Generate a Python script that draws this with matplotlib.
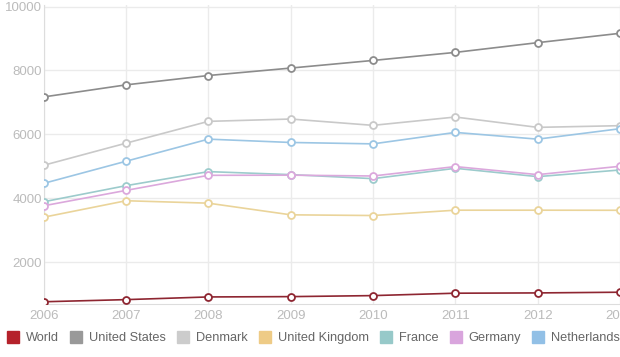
import matplotlib
matplotlib.use("Agg")
import matplotlib.pyplot as plt
from matplotlib.lines import Line2D

plt.rcParams['font.family'] = ['Liberation Sans', 'DejaVu Sans']

years = [2006, 2007, 2008, 2009, 2010, 2011, 2012, 2013]
series_names = ["World", "United States", "Denmark", "United Kingdom", "France", "Germany", "Netherlands"]
world = [755, 822, 906, 916, 948, 1023, 1032, 1054]
united_states = [7170, 7548, 7841, 8074, 8313, 8565, 8870, 9163]
denmark = [5030, 5722, 6405, 6478, 6280, 6541, 6217, 6270]
united_kingdom = [3403, 3919, 3843, 3478, 3456, 3623, 3623, 3620]
france = [3887, 4391, 4831, 4737, 4611, 4935, 4674, 4882]
germany = [3761, 4243, 4715, 4720, 4694, 4989, 4737, 4998]
netherlands = [4463, 5156, 5848, 5744, 5700, 6059, 5848, 6175]
y_ticks = [2000, 4000, 6000, 8000, 10000]

values = [world, united_states, denmark, united_kingdom, france, germany, netherlands]
line_colors = ["#8e2631", "#8c8c8c", "#c9c9c9", "#ead49a", "#9ccbcc", "#dba8dc", "#9cc6e4"]
legend_colors = ["#b5222b", "#999999", "#cccccc", "#eecb86", "#97c9c9", "#d9a5dd", "#92c0e6"]

fig = plt.figure(figsize=(6.2, 3.57), dpi=100)
ax = fig.add_axes([43.7 / 620, 1 - 304 / 357, 1 - 43.7 / 620, (304 - 5.3) / 357])

for name, vals, c in zip(series_names, values, line_colors):
    ax.plot(years, vals, color=c, lw=1.2, marker='o', ms=5, mfc='white', mec=c, mew=1.3, zorder=3)

ax.set_xlim(years[0], years[-1])
ax.set_ylim(685, 10040)
ax.set_xticks(years)
ax.set_yticks(y_ticks)
ax.set_xticklabels([str(y) for y in years])
ax.set_yticklabels([str(t) for t in y_ticks])
ax.grid(True, color="#ebebeb", lw=1)
ax.set_axisbelow(True)
for s in ['top', 'right']:
    ax.spines[s].set_visible(False)
for s in ['left', 'bottom']:
    ax.spines[s].set_color("#dddddd")
ax.tick_params(axis='both', length=0, colors="#bbbbbb", labelsize=9.5)
ax.tick_params(axis='y', pad=1)
ax.tick_params(axis='x', pad=4)

handles = [Line2D([], [], ls='none', marker='s', ms=8.5, mfc=c, mec=c) for c in legend_colors]
fig.legend(handles, series_names, loc='center left', bbox_to_anchor=(0.008, 1 - 338 / 357),
           ncol=7, frameon=False, fontsize=9.2, handlelength=0.9, handletextpad=0.55,
           columnspacing=0.9, labelcolor="#666666", borderaxespad=0, borderpad=0.2)

fig.savefig("out.png", dpi=100, facecolor='white')
